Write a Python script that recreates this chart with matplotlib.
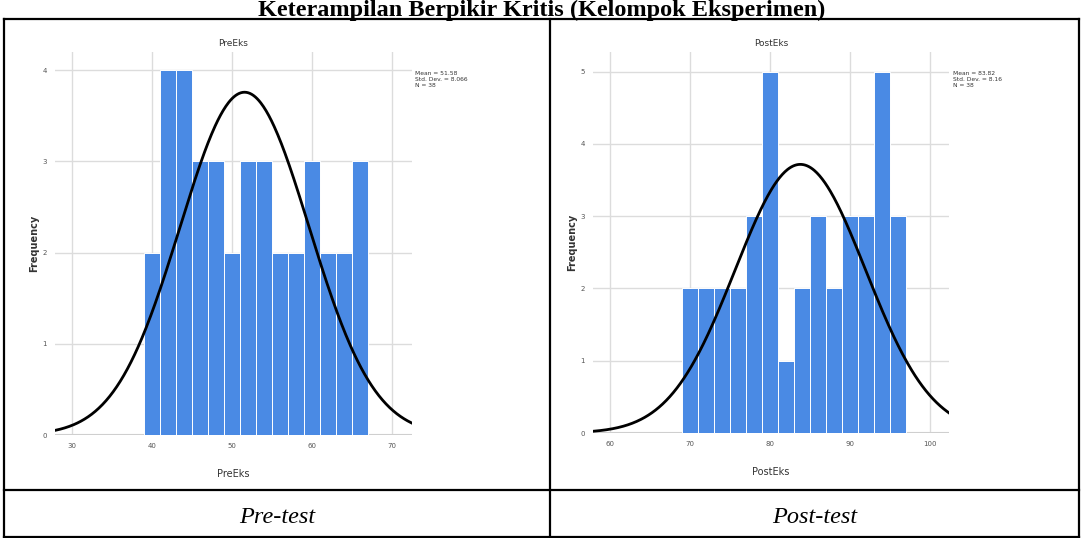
import numpy as np
import matplotlib
matplotlib.use("Agg")
import matplotlib.pyplot as plt
from matplotlib.lines import Line2D

# ---------------- data ----------------
title_text = "Keterampilan Berpikir Kritis (Kelompok Eksperimen)"
panel_names = ["PreEks", "PostEks"]
panel_captions = ["Pre-test", "Post-test"]

pre_bin_start = 39
pre_bin_width = 2
pre_counts = [2, 4, 4, 3, 3, 2, 3, 3, 2, 2, 3, 2, 2, 3]
pre_mean, pre_sd, pre_n = 51.58, 8.066, 38
pre_xticks = [30, 40, 50, 60, 70]
pre_yticks = [0, 1, 2, 3, 4]

post_bin_start = 69
post_bin_width = 2
post_counts = [2, 2, 2, 2, 3, 5, 1, 2, 3, 2, 3, 3, 5, 3]
post_mean, post_sd, post_n = 83.82, 8.16, 38
post_xticks = [60, 70, 80, 90, 100]
post_yticks = [0, 1, 2, 3, 4, 5]

W, H = 1082, 538
fig = plt.figure(figsize=(W / 100, H / 100), dpi=100)
fig.patch.set_facecolor("white")


def px_axes(x0, y0, x1, y1):
    """x0,y0 top-left ; x1,y1 bottom-right in pixels"""
    return fig.add_axes([x0 / W, 1 - y1 / H, (x1 - x0) / W, (y1 - y0) / H])


def fx(x):
    return x / W


def fy(y):
    return 1 - y / H


BAR = "#4a8ae4"
GRID = "#dcdcdc"


def hist_panel(box, start, bw, counts, mean, sd, n, xlim, ylim, xticks, yticks, name, legend_xy):
    ax = px_axes(*box)
    edges = start + bw * np.arange(len(counts) + 1)
    ax.bar(edges[:-1], counts, width=bw, align="edge", color=BAR,
           edgecolor="white", linewidth=0.7, zorder=2)
    xs = np.linspace(xlim[0], xlim[1], 400)
    ys = n * bw / (sd * np.sqrt(2 * np.pi)) * np.exp(-0.5 * ((xs - mean) / sd) ** 2)
    ax.plot(xs, ys, color="black", lw=2.0, zorder=3)
    ax.set_xlim(*xlim)
    ax.set_ylim(*ylim)
    ax.set_xticks(xticks)
    ax.set_yticks(yticks)
    ax.grid(True, color=GRID, lw=1.0, zorder=0)
    ax.set_axisbelow(True)
    for s in ax.spines.values():
        s.set_visible(False)
    ax.axhline(0, color="#cfcfcf", lw=1.5, zorder=1)
    ax.tick_params(length=0, labelsize=5, colors="#555555", pad=6)
    ax.set_xlabel(name, fontsize=7, color="#333333", labelpad=14)
    ax.set_ylabel("Frequency", fontsize=7, fontweight="bold", color="#333333", labelpad=2)
    ax.set_title(name, fontsize=6.5, color="#333333", pad=4)
    fig.text(fx(legend_xy[0]), fy(legend_xy[1]),
             f"Mean = {mean}\nStd. Dev. = {sd}\nN = {n}",
             fontsize=4.3, color="#333333", va="top", ha="left", linespacing=1.2)
    return ax


hist_panel((55, 52, 412, 435), pre_bin_start, pre_bin_width, pre_counts,
           pre_mean, pre_sd, pre_n, (27.9, 72.5), (0, 4.2),
           pre_xticks, pre_yticks, panel_names[0], (415, 71))
hist_panel((593, 52, 949, 433), post_bin_start, post_bin_width, post_counts,
           post_mean, post_sd, post_n, (57.9, 102.4), (0, 5.27),
           post_xticks, post_yticks, panel_names[1], (953, 71))

# ---------------- table lines ----------------
lw = 1.6
top, bot, mid_h = 19, 537, 490
left, right, mid_v = 4, 1079, 550
for (x0, y0, x1, y1) in [(left, top, right, top), (left, mid_h, right, mid_h),
                         (left, bot, right, bot), (left, top, left, bot),
                         (right, top, right, bot), (mid_v, top, mid_v, bot)]:
    fig.add_artist(Line2D([fx(x0), fx(x1)], [fy(y0), fy(y1)], color="black", lw=lw))

fig.text(fx(542), fy(16), title_text, fontsize=17.5, fontweight="bold",
         family="Liberation Serif", ha="center", va="baseline")
fig.text(fx(277), fy(523), panel_captions[0], fontsize=17.5, style="italic",
         family="Liberation Serif", ha="center", va="baseline")
fig.text(fx(815), fy(523), panel_captions[1], fontsize=17.5, style="italic",
         family="Liberation Serif", ha="center", va="baseline")

fig.savefig("out.png", dpi=100, facecolor="white")
